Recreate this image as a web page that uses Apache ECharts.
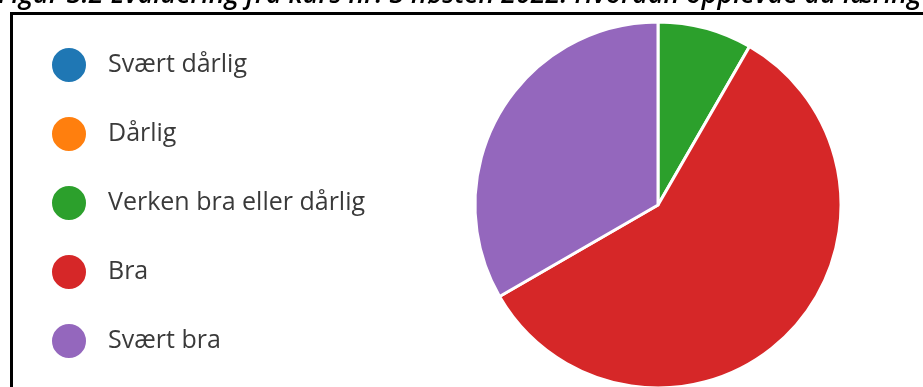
<!DOCTYPE html>
<html>
<head>
<meta charset="utf-8">
<script src="https://cdn.jsdelivr.net/npm/echarts@6/dist/echarts.min.js"></script>
<style>
  html, body { margin: 0; padding: 0; background: #fff; }
  #main { width: 923px; height: 387px; }
</style>
</head>
<body>
<div id="main"></div>
<script>
// Figur 3.2 - evaluering fra kurs nr. 3 hosten 2022
var titleText = 'Figur 3.2 Evaluering fra kurs nr. 3 høsten 2022: Hvordan opplevde du læringen';
var categories = ['Svært dårlig', 'Dårlig', 'Verken bra eller dårlig', 'Bra', 'Svært bra'];
var counts = [0, 0, 1, 7, 4];
var colors = ['#1f77b4', '#ff7f0e', '#2ca02c', '#d62728', '#9467bd'];

var pieData = [];
for (var i = 0; i < categories.length; i++) {
  pieData.push({ name: categories[i], value: counts[i] });
}

var myChart = echarts.init(document.getElementById('main'));

var option = {
  color: colors,
  animation: false,
  legend: {
    orient: 'vertical',
    left: 45,
    top: 41,
    icon: 'circle',
    itemWidth: 36,
    itemHeight: 36,
    itemGap: 31,
    selectedMode: false,
    textStyle: {
      fontFamily: 'Open Sans',
      fontSize: 25,
      lineHeight: 34,
      color: '#3a3a3a',
      padding: [0, 0, 0, 16]
    },
    data: categories
  },
  graphic: [
    {
      type: 'text',
      left: -2,
      top: -18,
      style: {
        text: titleText,
        fontFamily: 'Open Sans',
        fontStyle: 'italic',
        fontWeight: 600,
        fontSize: 26.8,
        fill: '#000'
      }
    },
    {
      type: 'line',
      shape: { x1: 10, y1: 13.5, x2: 923, y2: 13.5 },
      style: { stroke: '#000', lineWidth: 3 }
    },
    {
      type: 'line',
      shape: { x1: 11.5, y1: 12, x2: 11.5, y2: 387 },
      style: { stroke: '#000', lineWidth: 3 }
    }
  ],
  series: [
    {
      name: 'Evaluering',
      type: 'pie',
      center: [658, 205],
      radius: 183,
      startAngle: 90,
      clockwise: true,
      label: { show: false },
      labelLine: { show: false },
      itemStyle: { borderColor: '#fff', borderWidth: 3 },
      emphasis: { disabled: true },
      data: pieData
    }
  ]
};

myChart.setOption(option);
</script>
</body>
</html>
